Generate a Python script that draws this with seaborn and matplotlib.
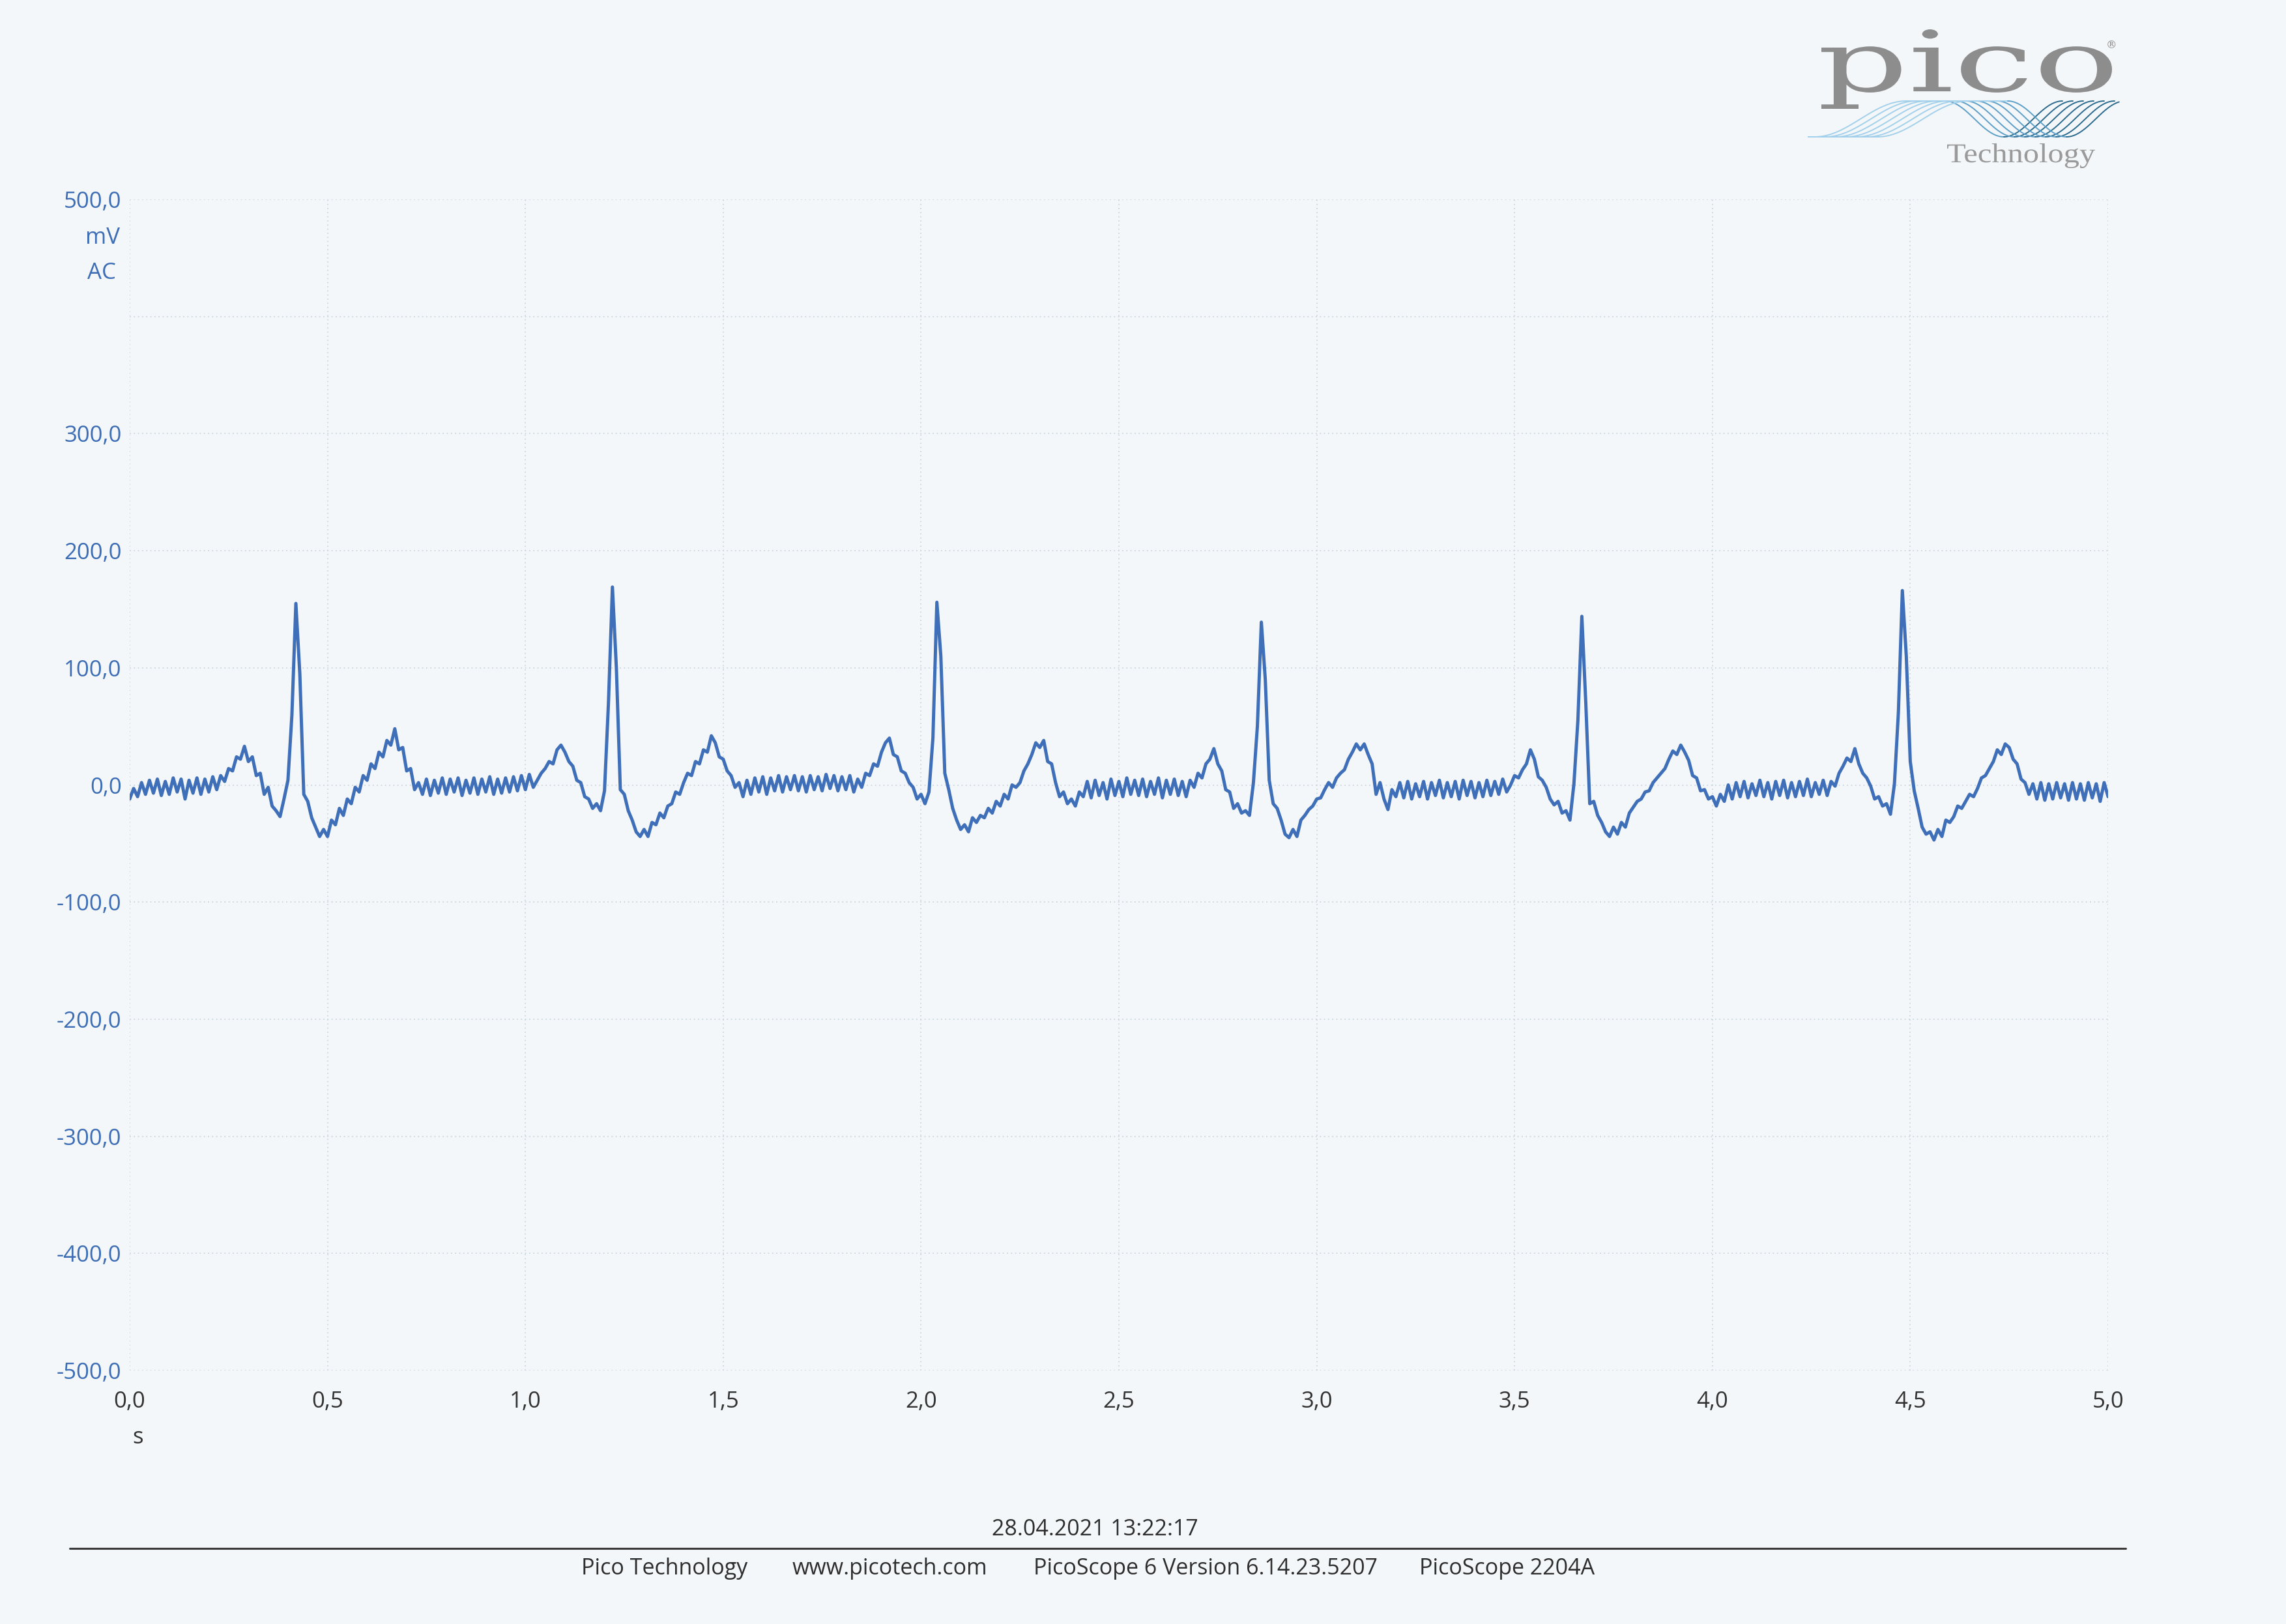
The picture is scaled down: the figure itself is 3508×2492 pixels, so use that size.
import numpy as np
import pandas as pd
import seaborn as sns
import matplotlib.pyplot as plt
from matplotlib.lines import Line2D
from matplotlib.patches import PathPatch
from matplotlib.textpath import TextPath
from matplotlib.font_manager import FontProperties
from matplotlib.transforms import Affine2D, IdentityTransform, blended_transform_factory

# channel A (mV AC), one sample every 10 ms
mv_0s = [-12, -3, -10, 2, -8, 4, -7, 5, -9, 3,
         -8, 6, -6, 5, -12, 4, -7, 6, -8, 5,
         -6, 7, -4, 8, 3, 14, 12, 24, 22, 33,
         20, 24, 8, 10, -8, -2, -18, -22, -27, -12,
         4, 60, 155, 95, -8, -14, -28, -36, -44, -38,
         -44, -30, -34, -20, -26, -12, -16, -2, -6, 8,
         4, 18, 14, 28, 24, 38, 34, 48, 30, 32,
         12, 14, -4, 2, -8, 5, -9, 4, -7, 6,
         -8, 5, -6, 6, -9, 4, -7, 6, -8, 5,
         -6, 7, -8, 5, -7, 6, -6, 7, -5, 8]
mv_1s = [-4, 9, -2, 4, 10, 14, 20, 18, 30, 34,
         28, 20, 16, 4, 2, -10, -12, -20, -16, -22,
         -5, 70, 169, 100, -4, -8, -22, -30, -40, -44,
         -38, -44, -32, -34, -24, -28, -18, -16, -6, -8,
         2, 10, 8, 20, 18, 30, 28, 42, 36, 24,
         22, 12, 8, -2, 2, -10, 4, -8, 6, -6,
         7, -8, 6, -5, 8, -6, 7, -4, 8, -5,
         7, -6, 8, -4, 7, -5, 9, -3, 8, -5,
         7, -4, 8, -6, 5, -2, 10, 8, 18, 16,
         28, 36, 40, 26, 24, 12, 10, 2, -2, -12]
mv_2s = [-8, -16, -6, 40, 156, 110, 10, -4, -20, -30,
         -38, -34, -40, -28, -32, -26, -28, -20, -24, -14,
         -18, -8, -12, 0, -2, 2, 12, 18, 26, 36,
         32, 38, 20, 18, 2, -10, -6, -16, -12, -18,
         -6, -10, 3, -11, 4, -9, 2, -12, 5, -9,
         3, -10, 6, -8, 4, -9, 5, -10, 3, -8,
         6, -11, 4, -8, 5, -9, 3, -10, 4, -2,
         10, 6, 18, 22, 31, 18, 12, -4, -6, -20,
         -16, -24, -22, -26, 2, 50, 139, 90, 4, -16,
         -20, -30, -42, -45, -38, -44, -30, -26, -21, -18]
mv_3s = [-12, -11, -4, 2, -2, 6, 10, 13, 22, 28,
         35, 30, 35, 26, 18, -8, 2, -12, -21, -4,
         -10, 2, -11, 3, -12, 1, -10, 3, -12, 2,
         -9, 4, -11, 2, -10, 3, -12, 4, -9, 3,
         -11, 2, -10, 4, -9, 3, -8, 5, -6, 0,
         8, 6, 13, 18, 30, 22, 7, 4, -2, -12,
         -17, -14, -24, -22, -30, 1, 55, 144, 70, -16,
         -14, -26, -32, -40, -44, -36, -42, -32, -36, -24,
         -19, -14, -12, -6, -5, 2, 6, 10, 14, 22,
         29, 26, 34, 28, 21, 8, 6, -5, -4, -12]
mv_4s = [-10, -18, -8, -14, 0, -12, 2, -10, 3, -11,
         1, -9, 4, -10, 2, -12, 3, -9, 4, -11,
         2, -10, 3, -9, 5, -10, 2, -8, 4, -9,
         3, -1, 10, 16, 23, 20, 31, 18, 10, 6,
         -1, -12, -10, -18, -16, -25, 1, 62, 166, 110,
         20, -5, -20, -36, -42, -40, -47, -38, -44, -30,
         -32, -27, -18, -20, -14, -8, -10, -3, 6, 8,
         14, 20, 30, 26, 35, 32, 22, 18, 5, 2,
         -8, 1, -12, 2, -13, 1, -12, 2, -11, 1,
         -13, 2, -12, 1, -13, 2, -11, 1, -14, 2, -10]
sample_step = 0.01  # s

x_ticks = [0.0, 0.5, 1.0, 1.5, 2.0, 2.5, 3.0, 3.5, 4.0, 4.5, 5.0]
y_ticks = [-500, -400, -300, -200, -100, 0, 100, 200, 300, 400, 500]
footer_date = "28.04.2021 13:22:17"
footer_parts = ["Pico Technology", "www.picotech.com",
                "PicoScope 6 Version 6.14.23.5207", "PicoScope 2204A"]
footer_x = [1020, 1365, 1850, 2313]   # centre of each part, px

mv = mv_0s + mv_1s + mv_2s + mv_3s + mv_4s
df = pd.DataFrame({"t": np.arange(len(mv)) * sample_step, "mv": mv})

W, H = 3508, 2492
paper = "#f3f7f9"
blue = "#3c6db5"
grid_c = "#cbd6dd"

sns.set_theme(style="white")
plt.rcParams["font.family"] = ["Open Sans", "DejaVu Sans"]

fig = plt.figure(figsize=(W / 100, H / 100), dpi=100, facecolor=paper)
ax = fig.add_axes([199 / W, 1 - 2103 / H, (3235 - 199) / W, (2103 - 306) / H])
ax.set_facecolor(paper)

sns.lineplot(data=df, x="t", y="mv", ax=ax, color="#3e6fb8",
             linewidth=3.6, estimator=None)

ax.set_xlim(0, 5)
ax.set_ylim(-500, 500)
ax.set_xticks(x_ticks)
ax.set_xticklabels([f"{v:.1f}".replace(".", ",") for v in x_ticks])
ax.set_yticks(y_ticks)
ax.set_yticklabels(["" if v == 400 else f"{v:.1f}".replace(".", ",") for v in y_ticks])
ax.set_xlabel("")
ax.set_ylabel("")
ax.grid(True, color=grid_c, linestyle=(0, (1, 2.5)), linewidth=1.3)
for sp in ax.spines.values():
    sp.set_visible(False)
ax.tick_params(axis="y", length=0, pad=9, labelsize=25, labelcolor=blue)
ax.tick_params(axis="x", length=0, pad=22, labelsize=25, labelcolor="#333333")

trans = blended_transform_factory(ax.transAxes, ax.transData)
ax.text(-0.005, 467, "mV", transform=trans, ha="right", va="center",
        fontsize=25, color=blue)
ax.text(-0.007, 437, "AC", transform=trans, ha="right", va="center",
        fontsize=25, color=blue)
fig.text(212 / W, 1 - 2206 / H, "s", ha="center", va="center",
         fontsize=25, color="#333333")

# footer
fig.text(1680 / W, 1 - 2347 / H, footer_date, ha="center", va="center",
         fontsize=24.5, color="#2e2e2e")
fig.add_artist(Line2D([107 / W, 3262 / W], [1 - 2376 / H] * 2,
                      color="#3a3a3a", linewidth=2.2))
for txt, xc in zip(footer_parts, footer_x):
    fig.text(xc / W, 1 - 2407 / H, txt, ha="center", va="center",
             fontsize=24.5, color="#2e2e2e")


# logo, drawn in pixel coordinates (y measured from the top)
def fit_text(s, x0, x1, ytop, ybot, color, family):
    tp = TextPath((0, 0), s, size=100, prop=FontProperties(family=family))
    bb = tp.get_extents()
    tr = (Affine2D().translate(-bb.x0, -bb.y0)
          .scale((x1 - x0) / bb.width, (ybot - ytop) / bb.height)
          .translate(x0, H - ybot))
    fig.add_artist(PathPatch(tr.transform_path(tp), facecolor=color,
                             edgecolor="none", transform=IdentityTransform()))


fit_text("pico", 2795, 3241, 45, 167, "#8d8d8d", "DejaVu Serif")
fit_text("Technology", 2988, 3215, 220, 258, "#9a9a9a", "Liberation Serif")
fig.text(3240 / W, 1 - 70 / H, "®", ha="center", va="center",
         fontsize=12, color="#8d8d8d", family="DejaVu Serif")

top, bot = 155, 210
u = np.linspace(0, 1, 40)
s = (1 - np.cos(np.pi * u)) / 2
for k in range(7):
    xs = 2785 + 16 * k
    xr = np.r_[2775, xs + 140 * u, xs + 200]
    yr = np.r_[bot, bot - (bot - top) * s, top]
    xf = xs + 200 + 90 * u
    yf = top + (bot - top) * s
    x2 = xs + 290 + 90 * u
    y2 = bot - (bot - top) * s
    keep = x2 <= 3254
    for xx, yy, c in [(xr, yr, "#a3d0ea"), (xf, yf, "#5d9fc8"),
                      (x2[keep], y2[keep], "#2b6a8c")]:
        fig.add_artist(Line2D(xx, H - yy, color=c, linewidth=1.4,
                              transform=IdentityTransform()))

fig.savefig("out.png", dpi=100, facecolor=paper)
